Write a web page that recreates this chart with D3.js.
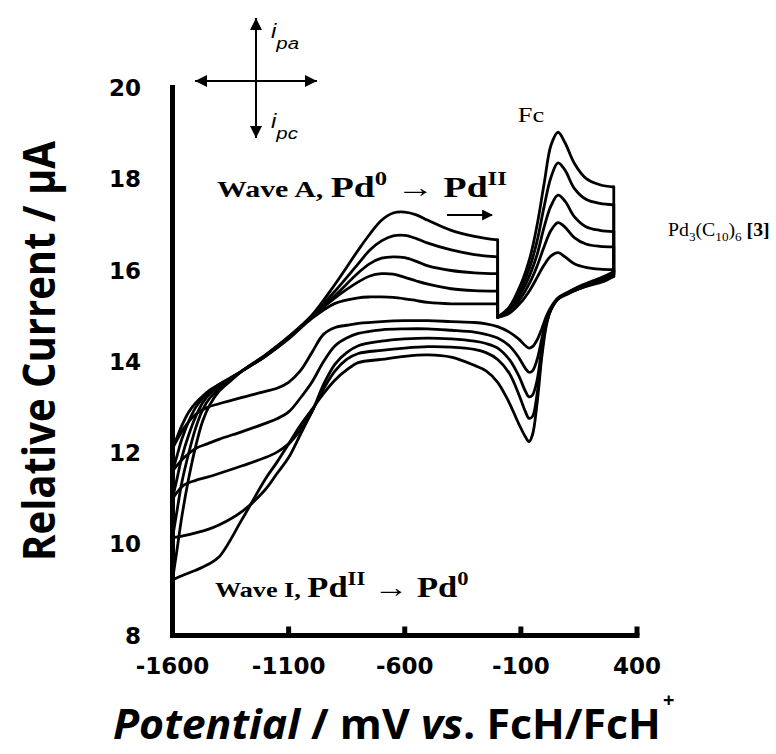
<!DOCTYPE html>
<html>
<head>
<meta charset="utf-8">
<script src="https://cdn.jsdelivr.net/npm/d3@7"></script>
<style>
  body { margin: 0; background: #fff; }
  svg { display: block; }
  text { fill: #000; }
</style>
</head>
<body>
<script>
// Cyclic voltammograms of Pd3(C10)6 with the FcH/FcH+ couple, five scans (smallest to largest).

// Anodic sweep from -1600 mV up to -200 mV (wave A)
const anodicE = [-1600, -1580, -1560, -1530, -1500, -1470, -1440, -1400, -1350, -1300, -1200, -1100, -1000, -900, -800, -750, -700, -650, -600, -550, -500, -400, -300, -200];
const anodicI = [
  [12.1, 12.35, 12.6, 12.9, 13.1, 13.25, 13.38, 13.5, 13.65, 13.8, 14.12, 14.5, 14.95, 15.28, 15.4, 15.42, 15.42, 15.41, 15.38, 15.34, 15.3, 15.27, 15.27, 15.27],
  [11.6, 11.95, 12.3, 12.7, 13.0, 13.2, 13.35, 13.5, 13.64, 13.8, 14.12, 14.52, 14.98, 15.4, 15.75, 15.88, 15.93, 15.92, 15.85, 15.77, 15.7, 15.6, 15.56, 15.55],
  [11.0, 11.45, 11.9, 12.4, 12.8, 13.1, 13.3, 13.45, 13.62, 13.8, 14.13, 14.53, 14.99, 15.45, 15.95, 16.15, 16.27, 16.3, 16.28, 16.2, 16.1, 16.0, 15.95, 15.93],
  [10.14, 10.75, 11.35, 12.0, 12.55, 12.95, 13.2, 13.4, 13.6, 13.8, 14.14, 14.54, 15.0, 15.55, 16.15, 16.45, 16.65, 16.76, 16.77, 16.7, 16.6, 16.45, 16.35, 16.3],
  [9.22, 9.9, 10.6, 11.45, 12.15, 12.7, 13.05, 13.35, 13.58, 13.8, 14.15, 14.55, 15.02, 15.7, 16.45, 16.8, 17.1, 17.26, 17.28, 17.22, 17.1, 16.88, 16.75, 16.67]
];

// Anodic sweep through the ferrocene wave, -200 mV to 300 mV
const fcAnodicE = [-200, -150, -100, -60, -30, 0, 30, 60, 90, 130, 180, 240, 300];
const fcAnodicI = [
  [14.97, 15.06, 15.3, 15.58, 15.85, 16.12, 16.32, 16.39, 16.3, 16.15, 16.07, 16.03, 16.02],
  [14.97, 15.1, 15.4, 15.75, 16.1, 16.52, 16.88, 17.05, 16.95, 16.72, 16.58, 16.53, 16.52],
  [14.98, 15.13, 15.5, 15.92, 16.35, 16.95, 17.42, 17.65, 17.52, 17.18, 16.96, 16.88, 16.85],
  [14.98, 15.17, 15.6, 16.1, 16.65, 17.4, 18.05, 18.36, 18.2, 17.8, 17.56, 17.47, 17.44],
  [14.98, 15.2, 15.7, 16.3, 17.0, 17.9, 18.75, 19.03, 18.8, 18.35, 18.02, 17.88, 17.83]
];

// Cathodic return sweep from 300 mV back to -1600 mV (Fc reduction, plateau, wave I)
const cathodicE = [300, 250, 200, 150, 100, 60, 30, 10, -10, -30, -50, -65, -80, -110, -150, -200, -250, -300, -400, -500, -600, -700, -800, -850, -900, -950, -1000, -1050, -1100, -1150, -1200, -1300, -1400, -1450, -1500, -1550, -1600];
const cathodicI = [
  [15.98, 15.85, 15.75, 15.65, 15.52, 15.4, 15.2, 15.0, 14.72, 14.48, 14.33, 14.3, 14.35, 14.5, 14.65, 14.77, 14.83, 14.86, 14.88, 14.9, 14.9, 14.88, 14.84, 14.8, 14.75, 14.6, 14.2, 13.8, 13.55, 13.42, 13.35, 13.22, 13.08, 13.0, 12.85, 12.55, 12.1],
  [15.95, 15.82, 15.72, 15.62, 15.5, 15.38, 15.17, 14.93, 14.5, 14.05, 13.8, 13.77, 13.85, 14.1, 14.35, 14.52, 14.6, 14.65, 14.69, 14.72, 14.72, 14.7, 14.62, 14.52, 14.35, 14.0, 13.55, 13.2, 12.9, 12.75, 12.65, 12.47, 12.3, 12.2, 12.1, 11.9, 11.6],
  [15.92, 15.8, 15.7, 15.6, 15.48, 15.37, 15.15, 14.88, 14.3, 13.6, 13.27, 13.23, 13.35, 13.7, 14.05, 14.3, 14.4, 14.45, 14.5, 14.52, 14.5, 14.45, 14.35, 14.2, 13.95, 13.5, 12.9, 12.5, 12.2, 12.02, 11.9, 11.72, 11.55, 11.47, 11.4, 11.3, 11.0],
  [15.9, 15.78, 15.69, 15.6, 15.49, 15.38, 15.15, 14.85, 14.2, 13.3, 12.8, 12.76, 12.9, 13.3, 13.75, 14.05, 14.2, 14.27, 14.32, 14.33, 14.3, 14.25, 14.18, 14.05, 13.8, 13.4, 12.9, 12.4, 11.9, 11.55, 11.2, 10.72, 10.42, 10.32, 10.25, 10.19, 10.14],
  [15.87, 15.75, 15.68, 15.6, 15.5, 15.38, 15.15, 14.8, 14.1, 13.1, 12.4, 12.25, 12.35, 12.65, 13.1, 13.55, 13.8, 13.92, 14.1, 14.15, 14.12, 14.05, 13.98, 13.82, 13.6, 13.3, 12.95, 12.6, 12.2, 11.8, 11.43, 10.55, 9.72, 9.55, 9.43, 9.33, 9.22]
];

const xTicks = [-1600, -1100, -600, -100, 400];
const yTicks = [8, 10, 12, 14, 16, 18, 20];

const W = 776, H = 754;
const svg = d3.select("body").append("svg").attr("width", W).attr("height", H);
const defs = svg.append("defs");

const x = d3.scaleLinear().domain([-1600, 400]).range([172.5, 637]);
const y = d3.scaleLinear().domain([8, 20]).range([635.5, 88]);

// --- axes ---
const axisG = svg.append("g");
axisG.append("line")
  .attr("x1", x(-1600)).attr("x2", x(-1600))
  .attr("y1", 85).attr("y2", y(8) + 2.5)
  .attr("stroke", "#000").attr("stroke-width", 5);
axisG.append("line")
  .attr("x1", x(-1600) - 2.5).attr("x2", x(400) + 2.5)
  .attr("y1", y(8)).attr("y2", y(8))
  .attr("stroke", "#000").attr("stroke-width", 5);

// inward x ticks
axisG.selectAll("line.xt").data(xTicks.slice(1)).enter().append("line")
  .attr("class", "xt")
  .attr("x1", d => x(d)).attr("x2", d => x(d))
  .attr("y1", y(8)).attr("y2", y(8) - 9)
  .attr("stroke", "#000").attr("stroke-width", 5);

axisG.selectAll("text.xl").data(xTicks).enter().append("text")
  .attr("class", "xl")
  .attr("x", d => x(d)).attr("y", 674)
  .attr("text-anchor", "middle")
  .attr("font-family", "DejaVu Sans").attr("font-weight", "bold").attr("font-size", 23)
  .text(d => d);

axisG.selectAll("text.yl").data(yTicks).enter().append("text")
  .attr("class", "yl")
  .attr("x", 141).attr("y", d => y(d) + 8)
  .attr("text-anchor", "end")
  .attr("font-family", "DejaVu Sans").attr("font-weight", "bold").attr("font-size", 23)
  .text(d => d);

// axis titles, squeezed horizontally to their span
const yTitle = svg.append("text")
  .attr("font-family", "Open Sans").attr("font-weight", "bold").attr("font-size", 44)
  .text("Relative Current / µA");
{
  const w = yTitle.node().getComputedTextLength();
  yTitle.attr("text-anchor", "middle")
    .attr("transform", `translate(55,351) rotate(-90) scale(${420 / w},1)`);
}

const xTitle = svg.append("text")
  .attr("font-family", "Open Sans").attr("font-weight", "bold").attr("font-size", 42);
xTitle.append("tspan").attr("font-style", "italic").text("Potential");
xTitle.append("tspan").text(" / mV ");
xTitle.append("tspan").attr("font-style", "italic").text("vs");
xTitle.append("tspan").text(". FcH/FcH");
{
  const w = xTitle.node().getComputedTextLength();
  xTitle.attr("transform", `translate(113,739) scale(${548 / w},1)`);
}
svg.append("text")
  .attr("x", 663).attr("y", 707)
  .attr("font-family", "Open Sans").attr("font-weight", "bold").attr("font-size", 20)
  .text("+");

// --- voltammogram traces ---
const line = d3.line()
  .x(d => x(d[0])).y(d => y(d[1]))
  .curve(d3.curveCatmullRom.alpha(0.5));
const straight = d3.line().x(d => x(d[0])).y(d => y(d[1]));

const traces = svg.append("g")
  .attr("fill", "none").attr("stroke", "#000")
  .attr("stroke-width", 2.8).attr("stroke-linejoin", "round").attr("stroke-linecap", "round");

for (let k = 0; k < anodicI.length; k++) {
  const an = anodicE.map((e, i) => [e, anodicI[k][i]]);
  const fa = fcAnodicE.map((e, i) => [e, fcAnodicI[k][i]]);
  const ca = cathodicE.map((e, i) => [e, cathodicI[k][i]]);
  traces.append("path").attr("d", line(an));
  traces.append("path").attr("d", straight([an[an.length - 1], fa[0]]));
  traces.append("path").attr("d", line(fa));
  traces.append("path").attr("d", straight([fa[fa.length - 1], ca[0]]));
  traces.append("path").attr("d", line(ca));
}

// --- annotations ---
const serif = "Liberation Serif";

const wa = svg.append("text").attr("transform", "translate(217,197) scale(1.3,1)")
  .attr("font-family", serif).attr("font-weight", "bold");
wa.append("tspan").attr("font-size", 23).text("Wave A, ");
wa.append("tspan").attr("font-size", 29).text("Pd");
wa.append("tspan").attr("font-size", 19).attr("dy", -12).text("0");
wa.append("tspan").attr("font-size", 29).attr("dy", 12).text(" \u2192 Pd");
wa.append("tspan").attr("font-size", 19).attr("dy", -12).text("II");

const wi = svg.append("text").attr("transform", "translate(215,597) scale(1.19,1)")
  .attr("font-family", serif).attr("font-weight", "bold");
wi.append("tspan").attr("font-size", 22).text("Wave I, ");
wi.append("tspan").attr("font-size", 29).text("Pd");
wi.append("tspan").attr("font-size", 19).attr("dy", -12).text("II");
wi.append("tspan").attr("font-size", 29).attr("dy", 12).text(" \u2192 Pd");
wi.append("tspan").attr("font-size", 19).attr("dy", -12).text("0");

// sweep-direction arrow under wave A label
defs.append("marker").attr("id", "head")
  .attr("viewBox", "0 0 10 10").attr("refX", 9).attr("refY", 5)
  .attr("markerWidth", 5).attr("markerHeight", 5).attr("orient", "auto")
  .attr("markerUnits", "strokeWidth")
  .append("path").attr("d", "M0,0 L10,5 L0,10 z").attr("fill", "#000");
svg.append("line").attr("x1", 447).attr("x2", 492).attr("y1", 215).attr("y2", 215)
  .attr("stroke", "#000").attr("stroke-width", 2.2).attr("marker-end", "url(#head)");

svg.append("text").attr("transform", "translate(531,122) scale(1.2,1)").attr("text-anchor", "middle")
  .attr("font-family", serif).attr("font-size", 22).text("Fc");

const pd = svg.append("text").attr("transform", "translate(668,236) scale(1.1,1)")
  .attr("font-family", serif).attr("font-size", 18);
pd.append("tspan").text("Pd");
pd.append("tspan").attr("font-size", 12).attr("dy", 5).text("3");
pd.append("tspan").attr("dy", -5).text("(C");
pd.append("tspan").attr("font-size", 12).attr("dy", 5).text("10");
pd.append("tspan").attr("dy", -5).text(")");
pd.append("tspan").attr("font-size", 12).attr("dy", 5).text("6");
pd.append("tspan").attr("dy", -5).attr("font-weight", "bold").text(" [3]");

// current-direction cross (i_pa up, i_pc down)
defs.append("marker").attr("id", "tri")
  .attr("viewBox", "0 0 10 10").attr("refX", 10).attr("refY", 5)
  .attr("markerWidth", 6.5).attr("markerHeight", 6).attr("orient", "auto-start-reverse")
  .attr("markerUnits", "strokeWidth")
  .append("path").attr("d", "M0,0 L10,5 L0,10 z").attr("fill", "#000");
svg.append("line").attr("x1", 256).attr("x2", 256).attr("y1", 18).attr("y2", 138)
  .attr("stroke", "#000").attr("stroke-width", 2)
  .attr("marker-start", "url(#tri)").attr("marker-end", "url(#tri)");
svg.append("line").attr("x1", 195).attr("x2", 317).attr("y1", 81).attr("y2", 81)
  .attr("stroke", "#000").attr("stroke-width", 2)
  .attr("marker-start", "url(#tri)").attr("marker-end", "url(#tri)");

const ipa = svg.append("text").attr("transform", "translate(271,38) scale(1.2,1)")
  .attr("font-family", "Liberation Sans").attr("font-style", "italic");
ipa.append("tspan").attr("font-size", 20).text("i");
ipa.append("tspan").attr("font-size", 17).attr("dy", 11).text("pa");
const ipc = svg.append("text").attr("transform", "translate(271,128) scale(1.2,1)")
  .attr("font-family", "Liberation Sans").attr("font-style", "italic");
ipc.append("tspan").attr("font-size", 20).text("i");
ipc.append("tspan").attr("font-size", 17).attr("dy", 11).text("pc");
</script>
</body>
</html>
